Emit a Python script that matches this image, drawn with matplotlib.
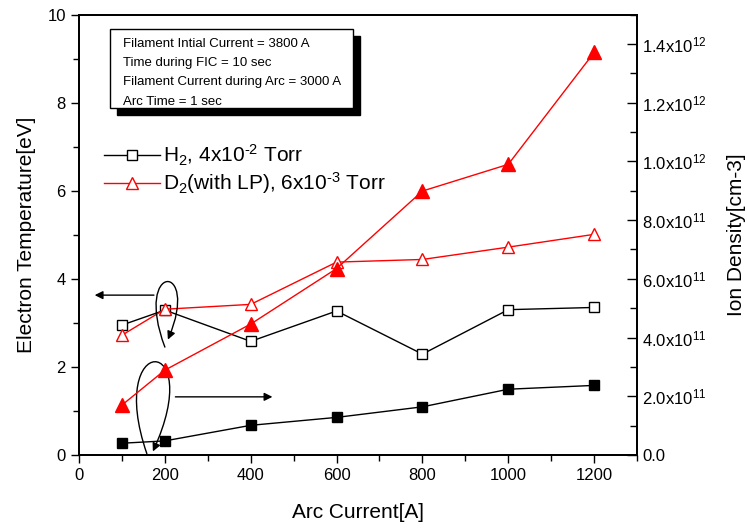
import numpy as np
import matplotlib.pyplot as plt
from matplotlib.path import Path
from matplotlib.patches import FancyArrowPatch, Rectangle
from matplotlib.ticker import MultipleLocator, FuncFormatter

plt.rcParams['font.family'] = ['Liberation Sans', 'DejaVu Sans']
plt.rcParams['mathtext.fontset'] = 'custom'
plt.rcParams['mathtext.rm'] = 'Liberation Sans'
plt.rcParams['mathtext.it'] = 'Liberation Sans:italic'
plt.rcParams['mathtext.default'] = 'regular'

# Arc current [A]
arc_current = [100, 200, 400, 600, 800, 1000, 1200]

# Electron temperature [eV]
te_h2 = [2.95, 3.29, 2.58, 3.27, 2.29, 3.30, 3.35]
te_d2 = [2.72, 3.31, 3.42, 4.38, 4.44, 4.72, 5.01]

# Ion density [cm-3]
ni_h2 = [0.40e11, 0.48e11, 1.01e11, 1.28e11, 1.64e11, 2.24e11, 2.37e11]
ni_d2 = [1.70e11, 2.89e11, 4.46e11, 6.35e11, 8.99e11, 9.90e11, 13.71e11]

label_h2 = 'H$_2$, 4x10$^{\u2010 2}$ Torr'
label_d2 = 'D$_2$(with LP), 6x10$^{\u2010 3}$ Torr'

conditions = [
    'Filament Intial Current = 3800 A',
    'Time during FIC = 10 sec',
    'Filament Current during Arc = 3000 A',
    'Arc Time = 1 sec',
]

fig = plt.figure(figsize=(7.47, 5.28), dpi=100)
ax = fig.add_axes([0.1058, 0.1383, 0.747, 0.834])
ax2 = ax.twinx()

# temperature: open markers on the left axis
ax.plot(arc_current, te_h2, color='black', lw=1, marker='s', ms=7,
        mfc='white', mec='black', mew=1, label=label_h2, zorder=3)
ax.plot(arc_current, te_d2, color='red', lw=1, marker='^', ms=9,
        mfc='white', mec='red', mew=1, label=label_d2, zorder=3)

# density: filled markers on the right axis
ax2.plot(arc_current, ni_h2, color='black', lw=1, marker='s', ms=7.5,
         mfc='black', mec='black')
ax2.plot(arc_current, ni_d2, color='red', lw=1, marker='^', ms=10,
         mfc='red', mec='red')

ax.set_xlim(0, 1300)
ax.set_ylim(0, 10)
ax2.set_ylim(0, 1.5e12)

ax.xaxis.set_major_locator(MultipleLocator(200))
ax.xaxis.set_minor_locator(MultipleLocator(100))
ax.yaxis.set_major_locator(MultipleLocator(2))
ax.yaxis.set_minor_locator(MultipleLocator(1))
ax2.yaxis.set_major_locator(MultipleLocator(2e11))
ax2.yaxis.set_minor_locator(MultipleLocator(1e11))


def sci_fmt(v, pos):
    if v < 1:
        return '0.0'
    exp = int(np.floor(np.log10(v)))
    return '%.1fx10$^{%d}$' % (v / 10 ** exp, exp)


ax2.yaxis.set_major_formatter(FuncFormatter(sci_fmt))

ax.tick_params(axis='both', which='major', direction='out', length=6,
               width=1, labelsize=12, top=False)
ax.tick_params(axis='both', which='minor', direction='out', length=4, width=1)
ax2.tick_params(axis='y', which='major', direction='in', length=7,
                width=1, labelsize=12)
ax2.tick_params(axis='y', which='minor', direction='in', length=5, width=1)
for a in (ax, ax2):
    for s in a.spines.values():
        s.set_linewidth(1.3)

ax.set_xlabel('Arc Current[A]', fontsize=15, labelpad=14)
ax.set_ylabel('Electron Temperature[eV]', fontsize=15, labelpad=8)
ax2.set_ylabel('Ion Density[cm-3]', fontsize=15, labelpad=15)

ax.legend(loc='upper left', bbox_to_anchor=(0.03, 0.728), frameon=False,
          fontsize=15, handlelength=2.7, handletextpad=0.15, labelspacing=0.12,
          borderaxespad=0)

# condition box with drop shadow
trans = ax.transAxes
ax.add_patch(Rectangle((0.068, 0.772), 0.435, 0.179, transform=trans,
                       facecolor='black', edgecolor='black', zorder=4))
ax.add_patch(Rectangle((0.056, 0.788), 0.435, 0.179, transform=trans,
                       facecolor='white', edgecolor='black', lw=1, zorder=5))
ax.text(0.078, 0.947, '\n'.join(conditions), transform=trans, va='top',
        ha='left', fontsize=9.5, linespacing=1.8, zorder=6)


def loop(p0, c1, c2, p3):
    path = Path([p0, c1, c2, p3],
                [Path.MOVETO, Path.CURVE4, Path.CURVE4, Path.CURVE4])
    return FancyArrowPatch(path=path, arrowstyle='-|>', mutation_scale=12,
                           color='black', lw=1, zorder=6)


# loops pointing each group of points to its axis
ax.add_patch(loop((200, 2.45), (125, 4.4), (285, 4.4), (207, 2.62)))
ax.add_patch(loop((158, 0.03), (60, 2.8), (300, 2.8), (172, 0.08)))

arrow = dict(arrowstyle='-|>', color='black', lw=1, mutation_scale=12)
ax.annotate('', xy=(30, 3.63), xytext=(181, 3.63), arrowprops=arrow, zorder=6)
ax.annotate('', xy=(457, 1.32), xytext=(218, 1.32), arrowprops=arrow, zorder=6)

fig.savefig('out.png', dpi=100)
